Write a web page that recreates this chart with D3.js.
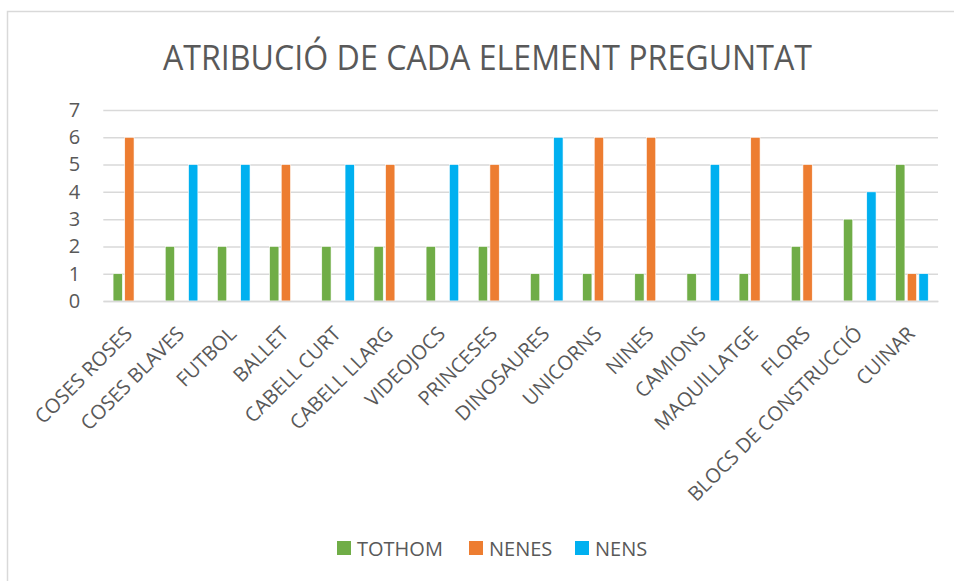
<!DOCTYPE html>
<html>
<head>
<meta charset="utf-8">
<script src="https://cdn.jsdelivr.net/npm/d3@7"></script>
<style>
  html, body { margin: 0; padding: 0; background: #fff; }
  svg { display: block; font-family: "Open Sans", "Noto Sans", sans-serif; }
</style>
</head>
<body>
<svg id="chart" width="954" height="581"></svg>
<script>
// Categories on the x axis
const categories = [
  "COSES ROSES", "COSES BLAVES", "FUTBOL", "BALLET", "CABELL CURT",
  "CABELL LLARG", "VIDEOJOCS", "PRINCESES", "DINOSAURES", "UNICORNS",
  "NINES", "CAMIONS", "MAQUILLATGE", "FLORS", "BLOCS DE CONSTRUCCIÓ", "CUINAR"
];

// Series values, one per category
const tothom = [1, 2, 2, 2, 2, 2, 2, 2, 1, 1, 1, 1, 1, 2, 3, 5];
const nenes  = [6, 0, 0, 5, 0, 5, 0, 5, 0, 6, 6, 0, 6, 5, 0, 1];
const nens   = [0, 5, 5, 0, 5, 0, 5, 0, 6, 0, 0, 5, 0, 0, 4, 1];

const seriesNames  = ["TOTHOM", "NENES", "NENS"];
const seriesColors = ["#70ad47", "#ed7d31", "#00b0f0"];
const yTicks = [0, 1, 2, 3, 4, 5, 6, 7];

const title = "ATRIBUCIÓ DE CADA ELEMENT PREGUNTAT";
const textColor = "#595959";
const fontFamily = '"Open Sans", "Noto Sans", sans-serif';

const svg = d3.select("#chart");

// Outer chart frame
svg.append("rect")
  .attr("x", 7.5).attr("y", 11.5)
  .attr("width", 980).attr("height", 620)
  .attr("fill", "none")
  .attr("stroke", "#d9d9d9")
  .attr("stroke-width", 1.5);

const plot = { left: 103.3, right: 938, top: 110, bottom: 301 };

const y = d3.scaleLinear().domain([0, 7]).range([plot.bottom, plot.top]);
const x0 = d3.scaleBand().domain(categories)
  .range([plot.left, plot.right])
  .paddingInner(0.33).paddingOuter(0.165);
const x1 = d3.scaleBand().domain(seriesNames)
  .range([0, x0.bandwidth()])
  .paddingInner(0.2).paddingOuter(0.1);

// Horizontal gridlines and y labels via axis
const yAxis = d3.axisLeft(y)
  .tickValues(yTicks)
  .tickFormat(d3.format("d"))
  .tickSize(-(plot.right - plot.left))
  .tickPadding(23);
const gy = svg.append("g").attr("transform", `translate(${plot.left},0)`).call(yAxis)
  .attr("font-family", fontFamily);
gy.select(".domain").remove();
gy.selectAll(".tick line").attr("stroke", "#d9d9d9").attr("stroke-width", 1.5);
gy.selectAll(".tick text")
  .attr("fill", textColor)
  .style("font-size", "20px");

// Title
svg.append("text")
  .attr("x", 487.5).attr("y", 70)
  .attr("text-anchor", "middle")
  .attr("fill", textColor)
  .attr("textLength", 649)
  .attr("lengthAdjust", "spacingAndGlyphs")
  .style("font-size", "34px")
  .text(title);

// Bars
const seriesData = [tothom, nenes, nens];
const groups = svg.append("g").selectAll("g")
  .data(categories)
  .join("g")
  .attr("transform", d => `translate(${x0(d)},0)`);

groups.selectAll("rect")
  .data((d, i) => seriesNames.map((s, k) => ({ s, k, v: seriesData[k][i] })).filter(e => e.v > 0))
  .join("rect")
  .attr("x", d => x1(d.s))
  .attr("y", d => y(d.v))
  .attr("width", x1.bandwidth())
  .attr("height", d => y(0) - y(d.v))
  .attr("fill", d => seriesColors[d.k])
  .attr("stroke", "#ffffff")
  .attr("stroke-width", 0.6);

// Category labels rotated at -45°
const xAxis = d3.axisBottom(x0).tickSize(0).tickPadding(0);
const gx = svg.append("g").attr("transform", `translate(0,${plot.bottom})`).call(xAxis)
  .attr("font-family", fontFamily);
gx.select(".domain").attr("stroke", "#d9d9d9").attr("stroke-width", 1.5);
gx.selectAll(".tick text")
  .attr("fill", textColor)
  .style("font-size", "20px")
  .attr("text-anchor", "end")
  .attr("dy", null)
  .attr("y", 0)
  .attr("transform", "translate(4,34) rotate(-45)");

// Legend
const legendItems = [
  { name: "TOTHOM", color: seriesColors[0], x: 337 },
  { name: "NENES", color: seriesColors[1], x: 469 },
  { name: "NENS", color: seriesColors[2], x: 575 }
];
const legend = svg.append("g");
legend.selectAll("rect")
  .data(legendItems)
  .join("rect")
  .attr("x", d => d.x).attr("y", 541)
  .attr("width", 14).attr("height", 14)
  .attr("fill", d => d.color);
legend.selectAll("text")
  .data(legendItems)
  .join("text")
  .attr("x", d => d.x + 20).attr("y", 555.5)
  .attr("fill", textColor)
  .style("font-size", "20px")
  .text(d => d.name);
</script>
</body>
</html>
